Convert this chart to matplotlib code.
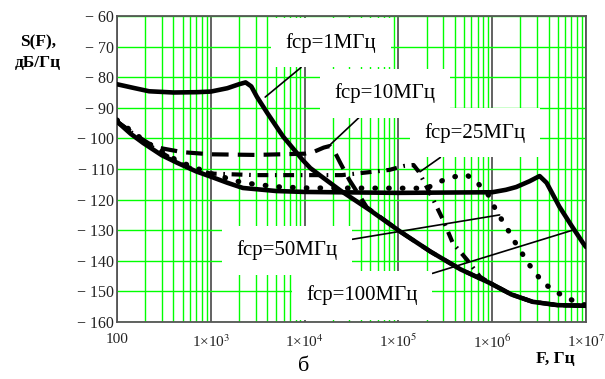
import matplotlib
matplotlib.use("Agg")
import matplotlib.pyplot as plt
from matplotlib.ticker import FixedLocator, FixedFormatter, LogLocator, NullFormatter

plt.rcParams["font.family"] = ["Liberation Serif", "DejaVu Serif"]
plt.rcParams["mathtext.fontset"] = "stix"

# spectra S(F), dB/Hz
F_1M = [100, 150, 220, 400, 700, 1000, 1500, 2000, 2350, 2700, 3100, 4000, 5900,
        9500, 11500, 16000, 24000, 50000, 105000, 220000, 460000, 950000,
        1600000, 2700000, 5000000, 10000000]
S_1M = [-82.3, -83.5, -84.6, -85.0, -84.9, -84.7, -83.6, -82.3, -81.7, -83.0, -86.4,
        -91.7, -99.4, -107.0, -109.7, -113.0, -117.0, -123.5, -130.5, -137.0,
        -142.8, -147.3, -151.0, -153.4, -154.5, -154.7]

F_10M = [100, 160, 250, 500, 1000, 3000, 10000, 12500, 16000, 18500, 21000, 24000,
         30000, 38000, 46000, 105000, 220000, 460000, 950000, 1600000, 2700000,
         5000000, 10000000]
S_10M = [-94.5, -99.0, -102.8, -104.5, -105.2, -105.4, -105.0, -104.4, -103.0, -102.5,
         -104.5, -108.0, -113.6, -118.5, -122.5, -130.5, -137.0, -142.8, -147.3,
         -151.0, -153.4, -154.5, -154.7]

F_25M = [100, 200, 400, 630, 1000, 3000, 25000, 50000, 80000, 115000, 145000, 165000,
         235000, 300000, 380000, 540000, 740000, 950000, 1600000, 2700000, 5000000,
         10000000]
S_25M = [-94.5, -101.5, -107.0, -110.0, -111.5, -112.0, -112.0, -111.0, -110.3, -109.0,
         -108.7, -110.9, -120.0, -126.7, -134.2, -139.7, -145.2, -147.3, -151.0,
         -153.4, -154.5, -154.7]

F_50M = [100, 200, 450, 1000, 2200, 5000, 10000, 200000, 275000, 400000, 540000,
         700000, 910000, 1120000, 1410000, 1740000, 2500000, 3500000, 5800000,
         8700000, 10000000]
S_50M = [-94.0, -101.0, -107.5, -111.5, -114.5, -115.8, -116.2, -116.3, -114.1, -112.5,
         -112.0, -114.6, -118.5, -124.0, -128.9, -133.8, -141.4, -147.3, -151.7,
         -154.0, -154.5]

F_100M = [100, 140, 190, 300, 440, 700, 1000, 1500, 2200, 5000, 10000, 100000,
          1000000, 1400000, 1800000, 2500000, 3200000, 3800000, 5200000, 7000000,
          9300000, 10000000]
S_100M = [-94.5, -98.5, -101.5, -105.5, -108.0, -110.8, -112.5, -114.5, -116.2, -117.2,
          -117.5, -117.8, -117.6, -116.8, -115.9, -114.0, -112.3, -114.5, -122.3,
          -128.5, -134.2, -135.5]

Y_TICKS = [-60, -70, -80, -90, -100, -110, -120, -130, -140, -150, -160]
X_TICKS = [1e2, 1e3, 1e4, 1e5, 1e6, 1e7]
X_LABELS = ["100", r"1×10$^{3}$", r"1×10$^{4}$", r"1×10$^{5}$", r"1×10$^{6}$", r"1×10$^{7}$"]

# label text, label position (F, S), leader target (F, S)
LABELS = [
    ("fcp=1MГц", (1.9e4, -68.8), (3800, -86.5)),
    ("fcp=10MГц", (7.2e4, -85.2), (1.78e4, -102.7)),
    ("fcp=25MГц", (6.6e5, -98.2), (1.7e5, -110.9)),
    ("fcp=50MГц", (6.5e3, -136.5), (1.2e6, -125.0)),
    ("fcp=100MГц", (4.1e4, -151.2), (7.2e6, -130.0)),
]

fig = plt.figure(figsize=(6.05, 3.79), dpi=100)
ax = fig.add_axes([0.1934, 0.1504, 0.7752, 0.8074])

ax.plot(F_1M, S_1M, "-", color="black", lw=3.3, solid_capstyle="round", zorder=3)
ax.plot(F_100M, S_100M, "-", color="black", lw=3.3, solid_capstyle="round", zorder=3)
ax.plot(F_10M, S_10M, color="black", lw=3.0, linestyle=(0, (4.0, 2.2)), zorder=3)
ax.plot(F_25M, S_25M, color="black", lw=3.0, linestyle=(0, (2.6, 1.6, 0.4, 1.6)), zorder=3)
ax.plot(F_50M, S_50M, color="black", lw=3.8, linestyle=(0, (0.1, 2.5)),
        dash_capstyle="round", zorder=3)

ax.set_xscale("log")
ax.set_xlim(1e2, 1e7)
ax.set_ylim(-160, -60)

ax.xaxis.set_major_locator(FixedLocator(X_TICKS))
ax.xaxis.set_major_formatter(FixedFormatter(X_LABELS))
ax.xaxis.set_minor_locator(LogLocator(base=10, subs=range(2, 10)))
ax.xaxis.set_minor_formatter(NullFormatter())
ax.set_yticks(Y_TICKS)
ax.set_yticklabels(["\u2212 %d" % abs(v) for v in Y_TICKS])

ax.set_axisbelow(True)
ax.xaxis.grid(True, which="major", color="#555555", lw=1.3)
ax.xaxis.grid(True, which="minor", color="#00ff00", lw=1.0)
ax.yaxis.grid(True, which="major", color="#00ff00", lw=1.0)
ax.tick_params(which="both", length=0)
ax.tick_params(axis="y", pad=2, labelsize=11.5, labelcolor="#222222")
ax.tick_params(axis="x", pad=8, labelsize=11, labelcolor="#222222")
for s in ax.spines.values():
    s.set_color("#555555")
    s.set_linewidth(1.3)

for text, pos, target in LABELS:
    ax.annotate(text, xy=target, xytext=pos, fontsize=15, ha="center", va="center",
                bbox=dict(boxstyle="square,pad=0.7", fc="white", ec="none"),
                arrowprops=dict(arrowstyle="-", color="black", lw=1.2,
                                shrinkA=0, shrinkB=0),
                zorder=2)

fig.text(0.063, 0.889, "S(F),", fontsize=12.5, fontweight="bold", ha="center", va="center")
fig.text(0.063, 0.834, "дБ/Гц", fontsize=12.5, fontweight="bold", ha="center", va="center")
fig.text(0.918, 0.052, "F, Гц", fontsize=12.5, fontweight="bold", ha="center", va="center")
fig.text(0.502, 0.032, "б", fontsize=16, ha="center", va="center")

fig.savefig("out.png", dpi=100)
